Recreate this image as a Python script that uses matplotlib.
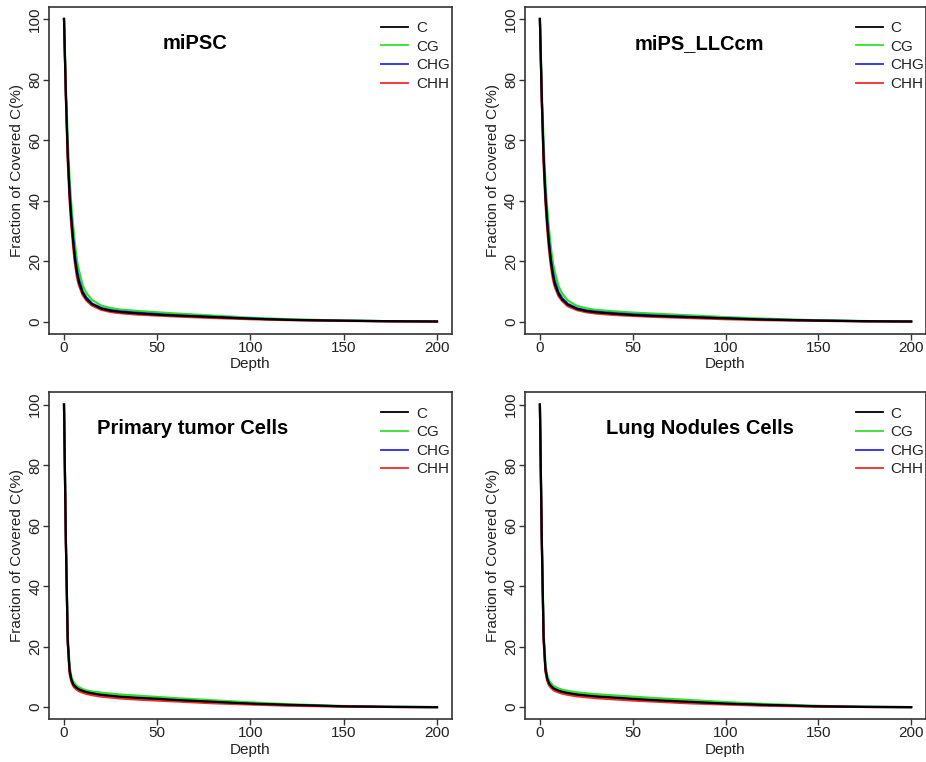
import matplotlib
matplotlib.use("Agg")
import matplotlib.pyplot as plt

plt.rcParams['font.family'] = ['Liberation Sans', 'DejaVu Sans']

depth = [0, 1, 2, 3, 4, 5, 6, 7, 8, 10, 12, 15, 20, 25, 30, 40, 50, 60, 80, 100, 120, 150, 175, 200]
contexts = ["C", "CG", "CHG", "CHH"]
colors = {"C": "black", "CG": "#2ee02e", "CHG": "#2a2ae8", "CHH": "#f02a2a"}

titles = ["miPSC", "miPS_LLCcm", "Primary tumor Cells", "Lung Nodules Cells"]

mipsc = {
    "C":   [100, 75, 55, 42, 33, 26, 20, 16, 13, 9.5, 7.5, 5.8, 4.3, 3.6, 3.2, 2.7, 2.3, 2.0, 1.5, 1.0, 0.6, 0.3, 0.15, 0.05],
    "CG":  [100, 78, 60, 47, 38, 31, 25, 20, 17, 12, 9.5, 7.2, 5.3, 4.5, 4.0, 3.5, 3.1, 2.7, 2.0, 1.3, 0.8, 0.35, 0.15, 0.05],
    "CHG": [100, 75, 56, 43, 34, 27, 21, 17, 14, 10, 8.0, 6.0, 4.5, 3.8, 3.4, 2.9, 2.5, 2.1, 1.6, 1.0, 0.6, 0.3, 0.15, 0.05],
    "CHH": [100, 74, 53, 40, 31, 24, 18.5, 14.5, 12, 8.8, 7.0, 5.3, 3.9, 3.2, 2.8, 2.3, 2.0, 1.7, 1.2, 0.8, 0.5, 0.25, 0.1, 0.05],
}
mips_llccm = {
    "C":   [100, 74, 54, 41, 32, 25, 19.5, 15.5, 12.5, 9.2, 7.3, 5.6, 4.2, 3.5, 3.1, 2.6, 2.2, 1.9, 1.5, 1.1, 0.7, 0.35, 0.15, 0.05],
    "CG":  [100, 77, 59, 46, 37, 30, 24, 19.5, 16.5, 11.8, 9.3, 7.0, 5.2, 4.4, 3.9, 3.4, 3.0, 2.7, 2.1, 1.5, 1.0, 0.45, 0.2, 0.05],
    "CHG": [100, 74, 55, 42, 33, 26, 20.5, 16.5, 13.5, 9.8, 7.8, 5.9, 4.4, 3.7, 3.3, 2.8, 2.4, 2.1, 1.6, 1.1, 0.7, 0.35, 0.15, 0.05],
    "CHH": [100, 73, 52, 39, 30, 23, 18, 14, 11.5, 8.5, 6.8, 5.1, 3.8, 3.1, 2.7, 2.2, 1.9, 1.6, 1.2, 0.8, 0.5, 0.25, 0.1, 0.05],
}
primary = {
    "C":   [100, 55, 22, 12, 9.0, 7.5, 6.8, 6.3, 5.9, 5.4, 5.0, 4.6, 4.1, 3.8, 3.5, 3.1, 2.8, 2.4, 1.8, 1.2, 0.8, 0.3, 0.1, 0.03],
    "CG":  [100, 57, 24, 13.5, 10, 8.5, 7.6, 7.0, 6.6, 6.0, 5.6, 5.2, 4.8, 4.5, 4.2, 3.8, 3.4, 3.0, 2.3, 1.6, 1.0, 0.4, 0.15, 0.03],
    "CHG": [100, 55, 22, 12, 9.0, 7.5, 6.8, 6.2, 5.8, 5.3, 4.9, 4.5, 4.0, 3.6, 3.3, 2.9, 2.6, 2.2, 1.6, 1.1, 0.7, 0.25, 0.1, 0.03],
    "CHH": [100, 54, 21, 11, 8.3, 6.9, 6.2, 5.7, 5.3, 4.8, 4.4, 4.0, 3.5, 3.2, 2.9, 2.5, 2.2, 1.9, 1.3, 0.9, 0.5, 0.2, 0.08, 0.03],
}
lung = {
    "C":   [100, 56, 23, 12.5, 9.3, 7.8, 7.0, 6.4, 6.0, 5.5, 5.1, 4.7, 4.2, 3.9, 3.6, 3.2, 2.8, 2.4, 1.8, 1.2, 0.8, 0.3, 0.1, 0.03],
    "CG":  [100, 58, 25, 14, 10.5, 8.8, 7.9, 7.2, 6.8, 6.2, 5.8, 5.4, 4.9, 4.6, 4.3, 3.9, 3.5, 3.1, 2.4, 1.7, 1.1, 0.45, 0.15, 0.03],
    "CHG": [100, 56, 23, 12.5, 9.2, 7.7, 6.9, 6.3, 5.9, 5.4, 5.0, 4.6, 4.1, 3.7, 3.4, 3.0, 2.6, 2.2, 1.6, 1.1, 0.7, 0.25, 0.1, 0.03],
    "CHH": [100, 55, 22, 11.5, 8.6, 7.1, 6.4, 5.8, 5.4, 4.9, 4.5, 4.1, 3.6, 3.3, 3.0, 2.6, 2.2, 1.9, 1.3, 0.9, 0.5, 0.2, 0.08, 0.03],
}
panels = [mipsc, mips_llccm, primary, lung]
title_x = [70, 86, 69, 86]

fig = plt.figure(figsize=(9.26, 7.62), dpi=100)
positions = [
    [0.053, 0.562, 0.435, 0.429],
    [0.567, 0.562, 0.433, 0.429],
    [0.053, 0.056, 0.435, 0.429],
    [0.567, 0.056, 0.433, 0.429],
]

for pos, data, title, tx in zip(positions, panels, titles, title_x):
    ax = fig.add_axes(pos)
    handles = {}
    for ctx, z in zip(["CG", "CHG", "CHH", "C"], [2, 3, 4, 5]):
        line, = ax.plot(depth, data[ctx], color=colors[ctx], lw=1.6, zorder=z)
        handles[ctx] = line
    ax.set_xlim(-8, 208)
    ax.set_ylim(-4, 104)
    ax.set_xticks([0, 50, 100, 150, 200])
    ax.set_yticks([0, 20, 40, 60, 80, 100])
    ax.tick_params(labelsize=11, length=4, width=1, pad=1, color='#333333', labelcolor='#222222')
    for lab in ax.get_yticklabels():
        lab.set_rotation(90)
        lab.set_va('center')
    for sp in ax.spines.values():
        sp.set_linewidth(1.2)
        sp.set_color('#333333')
    ax.set_xlabel("Depth", fontsize=11, color='#222222', labelpad=2)
    ax.set_ylabel("Fraction of Covered C(%)", fontsize=11, color='#222222', labelpad=3)
    ax.text(tx, 92, title, fontsize=14.5, fontweight='bold', ha='center', va='center')
    leg = ax.legend([handles[c] for c in contexts], contexts, loc='upper left',
                    bbox_to_anchor=(0.81, 0.975), frameon=False, fontsize=11,
                    handlelength=1.75, labelspacing=0.3, borderaxespad=0, handletextpad=0.5)
    for h in leg.get_lines():
        h.set_linewidth(1.3)
    for t in leg.get_texts():
        t.set_color('#222222')

fig.savefig("out.png", dpi=100)
